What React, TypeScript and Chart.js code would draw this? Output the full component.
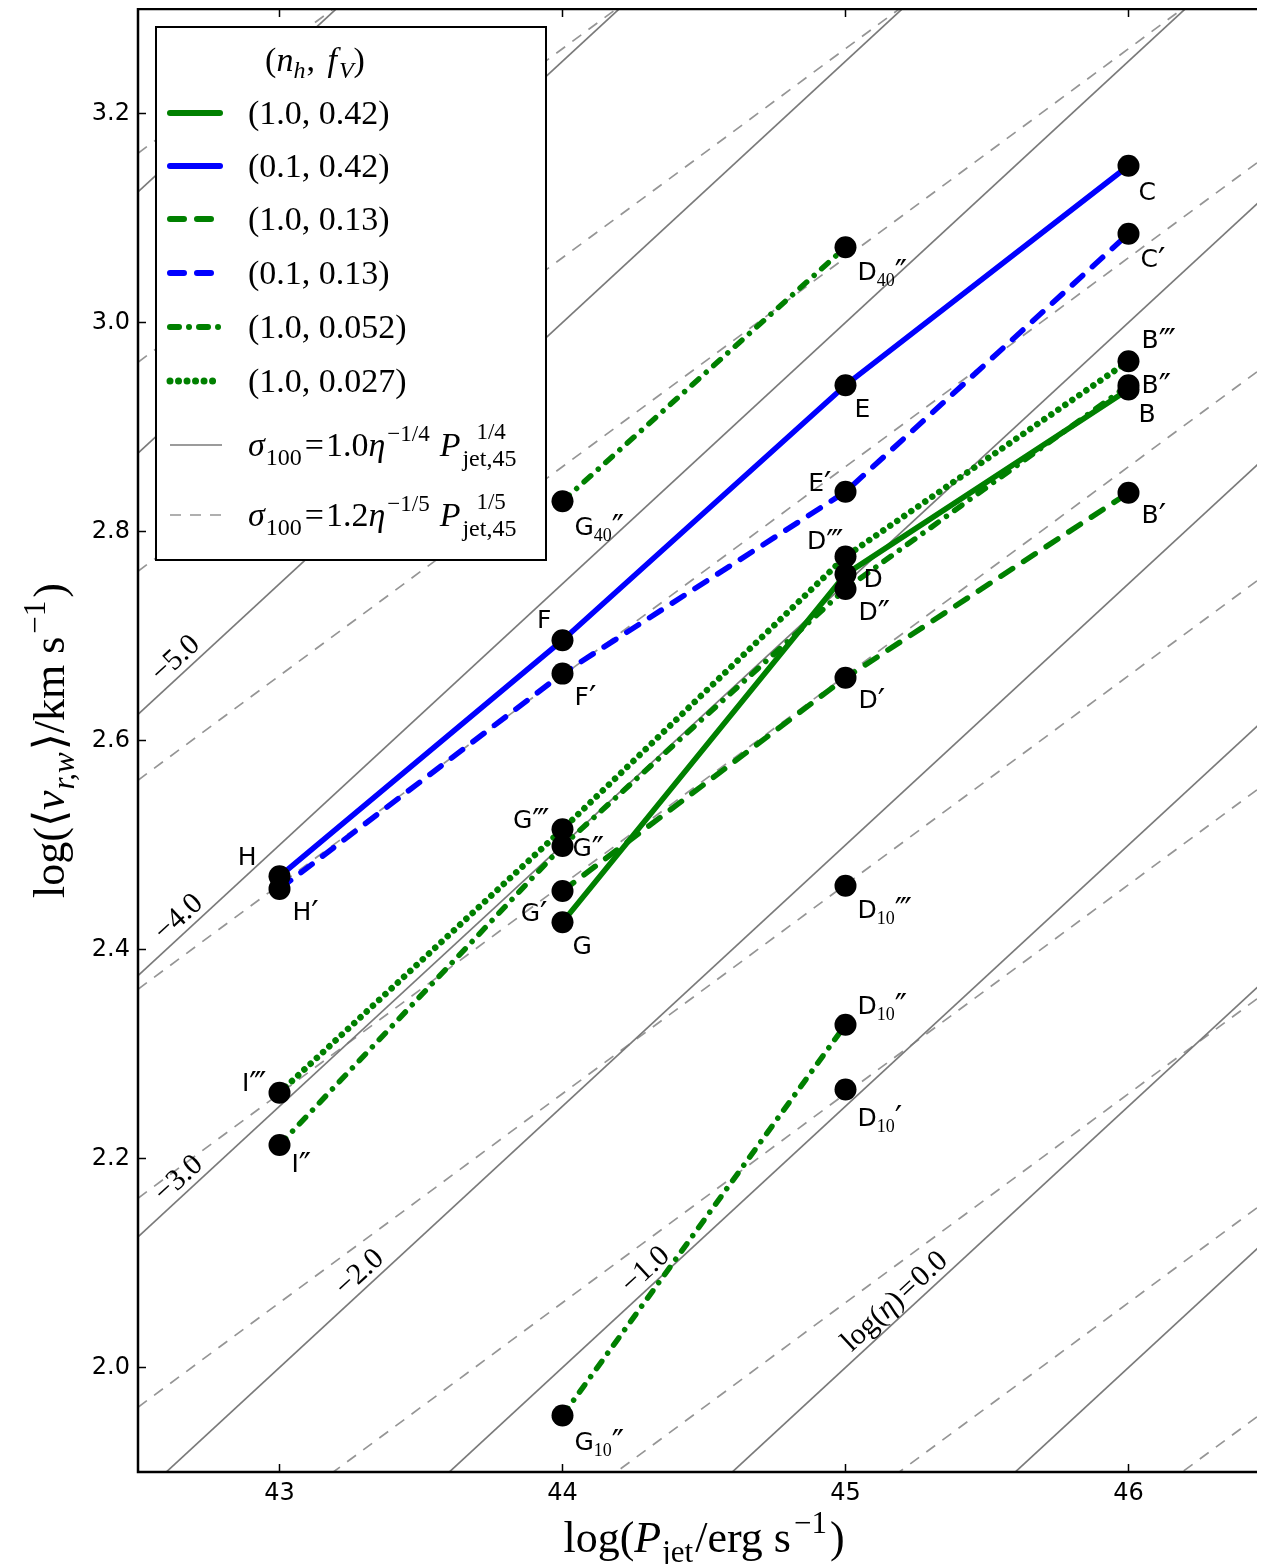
import { useEffect, useRef } from 'react';
import { Chart, registerables } from 'chart.js';

Chart.register(...registerables);

// Simulation runs: name, log jet power [erg/s], log mean radial outflow velocity [km/s]
const runNames = ['C', 'C′', 'B‴', 'B″', 'B', 'B′',
  'D40″', 'E', 'E′', 'D‴', 'D', 'D″', 'D′', 'D10‴', 'D10″', 'D10′',
  'G40″', 'F', 'F′', 'G‴', 'G″', 'G′', 'G', 'G10″',
  'H', 'H′', 'I‴', 'I″'];
const runLogP = [46, 46, 46, 46, 46, 46,
  45, 45, 45, 45, 45, 45, 45, 45, 45, 45,
  44, 44, 44, 44, 44, 44, 44, 44,
  43, 43, 43, 43];
const runLogV = [3.150, 3.085, 2.963, 2.940, 2.936, 2.837,
  3.072, 2.940, 2.838, 2.776, 2.759, 2.745, 2.660, 2.461, 2.328, 2.266,
  2.829, 2.696, 2.664, 2.515, 2.499, 2.456, 2.426, 1.954,
  2.470, 2.458, 2.263, 2.213];

// Runs sharing the same (n_h, f_V) are joined by a line
const seriesLabels = ['(1.0, 0.42)', '(0.1, 0.42)', '(1.0, 0.13)', '(0.1, 0.13)', '(1.0, 0.052)', '(1.0, 0.027)'];
const seriesRuns: string[][][] = [
  [['G', 'D', 'B']],
  [['H', 'F', 'E', 'C']],
  [['G′', 'D′', 'B′']],
  [['H′', 'F′', 'E′', 'C′']],
  [['I″', 'G″', 'D″', 'B″'], ['G40″', 'D40″'], ['G10″', 'D10″']],
  [['I‴', 'G‴', 'D‴', 'B‴']],
];

// Reference relations sigma_100 = A eta^(-k) P_jet,45^k, drawn for integer log(eta)
const etaValues = [-8, -7, -6, -5, -4, -3, -2, -1, 0, 1, 2];
const solidLogNorm = 0.0;   // dex, k = 1/4
const dashedLogNorm = 0.062; // dex, k = 1/5
const etaLabelValues = [-5, -4, -3, -2, -1, 0];
const etaLabelLogP = [42.67, 42.68, 42.68, 43.32, 44.33, 45.21];

const xTicks = [43, 44, 45, 46];
const yTicks = [2.0, 2.2, 2.4, 2.6, 2.8, 3.0, 3.2];

const SERIF = "'Liberation Serif', 'DejaVu Serif', serif";
const SANS = "'DejaVu Sans', sans-serif";
const GREEN = '#008000';
const BLUE = '#0000ff';

const seriesStyle = [
  { color: GREEN, dash: [] as number[], width: 5.5 },
  { color: BLUE, dash: [] as number[], width: 5.5 },
  { color: GREEN, dash: [14, 13], width: 5.5 },
  { color: BLUE, dash: [14, 13], width: 5.5 },
  { color: GREEN, dash: [9, 10, 0.01, 10], width: 5.5 },
  { color: GREEN, dash: [0.01, 8.5], width: 6.5 },
];

// label placement around each marker: [dx, dy of text centre, anchor side]
const labelPlace: Record<string, [number, number, 'l' | 'r']> = {
  'C': [10, 25, 'l'], 'C′': [12, 24, 'l'], 'B‴': [13, -22, 'l'], 'B″': [13, -1, 'l'], 'B': [10, 24, 'l'], 'B′': [13, 21, 'l'],
  'D40″': [12, 24, 'l'], 'E': [9, 23, 'l'], 'E′': [-14, -10, 'r'], 'D‴': [-2, -17, 'r'], 'D': [18, 4, 'l'], 'D″': [13, 22, 'l'],
  'D′': [13, 21, 'l'], 'D10‴': [12, 23, 'l'], 'D10″': [12, -20, 'l'], 'D10′': [12, 27, 'l'],
  'G40″': [12, 25, 'l'], 'F': [-11, -21, 'r'], 'F′': [12, 22, 'l'], 'G‴': [-13, -10, 'r'], 'G″': [10, 1, 'l'],
  'G′': [-15, 21, 'r'], 'G': [10, 23, 'l'], 'G10″': [12, 25, 'l'],
  'H': [-23, -20, 'r'], 'H′': [13, 22, 'l'], 'I‴': [-13, -11, 'r'], 'I″': [12, 18, 'l'],
};

type Run = { t: string; size: number; italic?: boolean; dy?: number; family?: string; gap?: number; sup?: Run; };

function runFont(r: Run) {
  return `${r.italic ? 'italic ' : ''}${r.size}px ${r.family ?? SERIF}`;
}

function runWidth(ctx: CanvasRenderingContext2D, r: Run) {
  ctx.font = runFont(r);
  let w = ctx.measureText(r.t).width;
  if (r.sup) {
    ctx.font = runFont(r.sup);
    w = Math.max(w, (r.sup.gap ?? 0) + ctx.measureText(r.sup.t).width);
  }
  return w + (r.gap ?? 0);
}

function drawRuns(ctx: CanvasRenderingContext2D, runs: Run[], x: number, y: number, align: 'left' | 'center' | 'right' = 'left') {
  const total = runs.reduce((s, r) => s + runWidth(ctx, r), 0);
  let cx = align === 'center' ? x - total / 2 : align === 'right' ? x - total : x;
  ctx.textAlign = 'left';
  ctx.textBaseline = 'alphabetic';
  for (const r of runs) {
    const w = runWidth(ctx, r);
    ctx.font = runFont(r);
    ctx.fillText(r.t, cx, y + (r.dy ?? 0));
    if (r.sup) {
      ctx.font = runFont(r.sup);
      ctx.fillText(r.sup.t, cx + (r.sup.gap ?? 0), y + (r.sup.dy ?? 0));
    }
    cx += w;
  }
}

function lineValue(eta: number, logP: number, logNorm: number, k: number) {
  return 2 + logNorm + k * (logP - 45) - k * eta;
}

function indexOfRun(name: string) {
  return runNames.indexOf(name);
}

function splitName(name: string) {
  const m = name.match(/^([A-Z])(\d*)(.*)$/);
  return m ? { base: m[1], sub: m[2], primes: m[3] } : { base: name, sub: '', primes: '' };
}

export default function App() {
  const canvasRef = useRef<HTMLCanvasElement | null>(null);

  useEffect(() => {
    const canvas = canvasRef.current;
    if (!canvas) return;

    const datasets: any[] = [];

    // markers (drawn on top)
    datasets.push({
      data: runLogP.map((x, i) => ({ x, y: runLogV[i] })),
      showLine: false,
      pointRadius: 11,
      pointHoverRadius: 11,
      pointBackgroundColor: '#000',
      pointBorderWidth: 0,
      order: 0,
    });

    // series lines
    seriesRuns.forEach((chains, s) => {
      chains.forEach((chain) => {
        datasets.push({
          data: chain.map((n) => {
            const i = indexOfRun(n);
            return { x: runLogP[i], y: runLogV[i] };
          }),
          showLine: true,
          pointRadius: 0,
          borderColor: seriesStyle[s].color,
          borderWidth: seriesStyle[s].width,
          borderDash: seriesStyle[s].dash,
          borderCapStyle: 'round',
          borderJoinStyle: 'round',
          order: 1,
        });
      });
    });

    // eta reference lines
    etaValues.forEach((eta) => {
      datasets.push({
        data: [42.5, 46.5].map((p) => ({ x: p, y: lineValue(eta, p, solidLogNorm, 0.25) })),
        showLine: true, pointRadius: 0, borderColor: '#7a7a7a', borderWidth: 1.7, order: 2,
      });
      datasets.push({
        data: [42.5, 46.5].map((p) => ({ x: p, y: lineValue(eta, p, dashedLogNorm, 0.2) })),
        showLine: true, pointRadius: 0, borderColor: '#959595', borderWidth: 1.7, borderDash: [11, 9], order: 2,
      });
    });

    const decor = {
      id: 'decor',
      afterDraw(chart: any) {
        const ctx: CanvasRenderingContext2D = chart.ctx;
        const ca = chart.chartArea;
        const xs = chart.scales.x;
        const ys = chart.scales.y;
        ctx.save();

        // contour labels along the solid lines
        ctx.fillStyle = '#000';
        etaLabelValues.forEach((eta, i) => {
          const p = etaLabelLogP[i];
          const px = xs.getPixelForValue(p);
          const py = ys.getPixelForValue(lineValue(eta, p, solidLogNorm, 0.25));
          const px2 = xs.getPixelForValue(p + 1);
          const py2 = ys.getPixelForValue(lineValue(eta, p + 1, solidLogNorm, 0.25));
          const ang = Math.atan2(py2 - py, px2 - px);
          ctx.save();
          ctx.translate(px, py);
          ctx.rotate(ang);
          const num = (eta < 0 ? '−' : '') + Math.abs(eta).toFixed(1);
          const runs: Run[] = eta === 0
            ? [{ t: 'log(', size: 30 }, { t: 'η', size: 30, italic: true }, { t: ')', size: 30, gap: 3 }, { t: '=', size: 30, gap: 2 }, { t: num, size: 30 }]
            : [{ t: num, size: 30 }];
          drawRuns(ctx, runs, 0, -7, 'center');
          ctx.restore();
        });

        // marker labels
        const pts = chart.getDatasetMeta(0).data;
        runNames.forEach((name, i) => {
          const el = pts[i];
          const place = labelPlace[name];
          if (!el || !place) return;
          const { base, sub, primes } = splitName(name);
          const runs: Run[] = [{ t: base, size: 25, family: SANS }];
          if (sub) runs.push({ t: sub, size: 18, dy: 6 });
          if (primes) runs.push({ t: primes, size: 33, family: SANS, dy: sub ? 4 : 5 });
          const bx = el.x + place[0];
          const by = el.y + place[1] + 9;
          drawRuns(ctx, runs, bx, by, place[2] === 'l' ? 'left' : 'right');
        });

        // spines, inward ticks and tick labels
        ctx.strokeStyle = '#000';
        ctx.lineWidth = 1.5;
        ctx.beginPath();
        xTicks.forEach((v) => {
          const x = xs.getPixelForValue(v);
          ctx.moveTo(x, ca.bottom); ctx.lineTo(x, ca.bottom - 8);
          ctx.moveTo(x, ca.top); ctx.lineTo(x, ca.top + 8);
        });
        yTicks.forEach((v) => {
          const y = ys.getPixelForValue(v);
          ctx.moveTo(ca.left, y); ctx.lineTo(ca.left + 8, y);
          ctx.moveTo(ca.right, y); ctx.lineTo(ca.right - 8, y);
        });
        ctx.stroke();
        ctx.lineWidth = 2.5;
        ctx.beginPath();
        ctx.moveTo(ca.right + 2, ca.top);
        ctx.lineTo(ca.left, ca.top);
        ctx.lineTo(ca.left, ca.bottom);
        ctx.lineTo(ca.right + 2, ca.bottom);
        ctx.stroke();

        ctx.fillStyle = '#000';
        ctx.font = `24px ${SANS}`;
        ctx.textAlign = 'center';
        ctx.textBaseline = 'top';
        xTicks.forEach((v) => {
          ctx.fillText(String(v), xs.getPixelForValue(v), ca.bottom + 10);
        });
        ctx.textAlign = 'right';
        ctx.textBaseline = 'middle';
        yTicks.forEach((v) => {
          ctx.fillText(v.toFixed(1), ca.left - 8, ys.getPixelForValue(v));
        });

        // legend
        const lx = ca.left + 18;
        const ly = ca.top + 18;
        ctx.fillStyle = '#fff';
        ctx.fillRect(lx, ly, 390, 533);
        ctx.lineWidth = 2;
        ctx.strokeStyle = '#000';
        ctx.strokeRect(lx, ly, 390, 533);
        ctx.fillStyle = '#000';
        drawRuns(ctx, [
          { t: '(', size: 34 }, { t: 'n', size: 34, italic: true }, { t: 'h', size: 24, italic: true, dy: 7, gap: 1 },
          { t: ', ', size: 34, gap: 4 }, { t: 'f', size: 34, italic: true, gap: 2 }, { t: 'V', size: 24, italic: true, dy: 7 }, { t: ')', size: 34 },
        ], lx + 159, ly + 44, 'center');
        const rowY = [86, 139, 192, 246, 300, 354];
        seriesLabels.forEach((lab, i) => {
          const y = ly + rowY[i];
          ctx.save();
          ctx.strokeStyle = seriesStyle[i].color;
          ctx.lineWidth = seriesStyle[i].width + 0.5;
          ctx.lineCap = 'round';
          ctx.setLineDash(seriesStyle[i].dash);
          ctx.beginPath();
          ctx.moveTo(lx + 14, y);
          ctx.lineTo(lx + 64, y);
          ctx.stroke();
          ctx.restore();
          ctx.fillStyle = '#000';
          drawRuns(ctx, [{ t: lab, size: 34 }], lx + 92, y + 11);
        });
        const formulas: { y: number; a: string; k: string; dash: number[]; color: string }[] = [
          { y: 418, a: '1.0', k: '1/4', dash: [], color: '#7a7a7a' },
          { y: 488, a: '1.2', k: '1/5', dash: [11, 9], color: '#959595' },
        ];
        formulas.forEach((f) => {
          const y = ly + f.y;
          ctx.save();
          ctx.strokeStyle = f.color;
          ctx.lineWidth = 1.7;
          ctx.setLineDash(f.dash);
          ctx.beginPath();
          ctx.moveTo(lx + 14, y);
          ctx.lineTo(lx + 66, y);
          ctx.stroke();
          ctx.restore();
          ctx.fillStyle = '#000';
          drawRuns(ctx, [
            { t: 'σ', size: 34, italic: true, gap: 1 },
            { t: '100', size: 24, dy: 9, gap: 3 },
            { t: '=', size: 34, gap: 2 },
            { t: f.a, size: 34 },
            { t: 'η', size: 34, italic: true, gap: 2 },
            { t: '−' + f.k, size: 23, dy: -15, gap: 10 },
            { t: 'P', size: 34, italic: true, gap: 2 },
            { t: 'jet,45', size: 24, dy: 10, sup: { t: f.k, size: 23, dy: -17, gap: 14 } },
          ], lx + 92, y + 11);
        });

        // axis titles
        drawRuns(ctx, [
          { t: 'log(', size: 44 }, { t: 'P', size: 44, italic: true, gap: 1 }, { t: 'jet', size: 31, dy: 10, gap: 2 },
          { t: '/erg s', size: 44, gap: 3 }, { t: '−1', size: 31, dy: -19, gap: 3 }, { t: ')', size: 44 },
        ], (ca.left + ca.right) / 2, ca.bottom + 80, 'center');

        ctx.save();
        ctx.translate(ca.left - 74, (ca.top + ca.bottom) / 2);
        ctx.rotate(-Math.PI / 2);
        drawRuns(ctx, [
          { t: 'log(⟨', size: 44 }, { t: 'v', size: 44, italic: true, gap: 1 }, { t: 'r,w', size: 31, italic: true, dy: 10, gap: 2 },
          { t: '⟩/km s', size: 44, gap: 3 }, { t: '−1', size: 31, dy: -19, gap: 3 }, { t: ')', size: 44 },
        ], 0, 0, 'center');
        ctx.restore();

        ctx.restore();
      },
    };

    const chart = new Chart(canvas, {
      type: 'scatter',
      data: { datasets },
      options: {
        responsive: false,
        animation: false,
        devicePixelRatio: 1,
        events: [],
        layout: { autoPadding: false, padding: { top: 1, right: 18, left: 0, bottom: 0 } },
        plugins: { legend: { display: false }, tooltip: { enabled: false } },
        scales: {
          x: {
            type: 'linear', min: 42.5, max: 46.5,
            grid: { display: false, drawTicks: false },
            border: { display: false },
            afterBuildTicks: (s: any) => { s.ticks = xTicks.map((v) => ({ value: v })); },
            afterFit: (s: any) => { s.height = 92; s.paddingLeft = 0; s.paddingRight = 0; },
            ticks: { display: false },
          },
          y: {
            type: 'linear', min: 1.9, max: 3.3,
            grid: { display: false, drawTicks: false },
            border: { display: false },
            afterBuildTicks: (s: any) => { s.ticks = yTicks.map((v) => ({ value: v })); },
            afterFit: (s: any) => { s.width = 130; s.paddingTop = 0; s.paddingBottom = 0; },
            ticks: { display: false },
          },
        },
      },
      plugins: [decor],
    } as any);

    return () => chart.destroy();
  }, []);

  return (
    <div style={{ width: 1257, height: 1556, overflow: 'hidden', background: '#fff' }}>
      <canvas ref={canvasRef} width={1280} height={1556} style={{ display: 'block' }} />
    </div>
  );
}
